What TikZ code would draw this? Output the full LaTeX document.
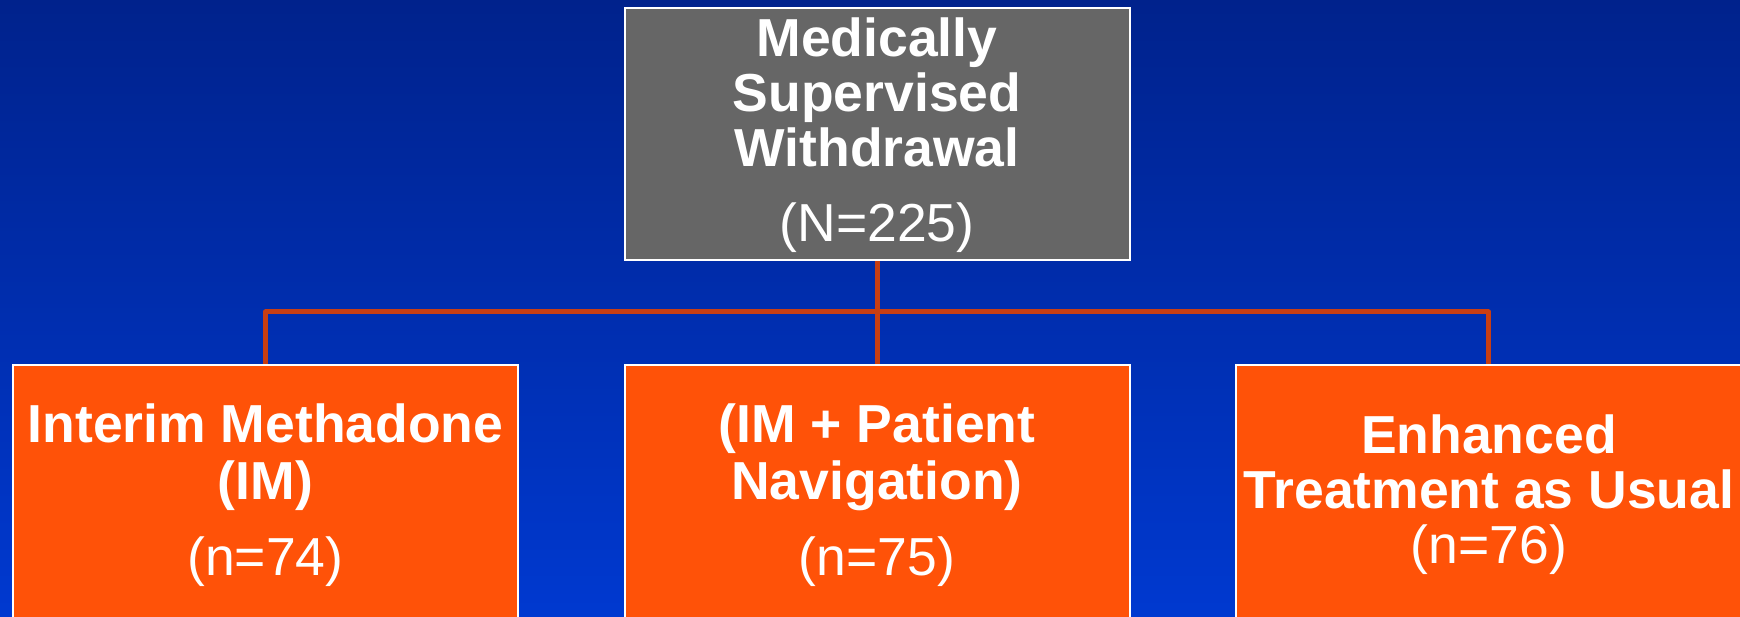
\documentclass[tikz,border=0pt]{standalone}
\usepackage{fontspec}
\setmainfont{Liberation Sans}
\definecolor{bgtop}{RGB}{0,34,140}
\definecolor{bgbot}{RGB}{0,57,208}
\definecolor{boxgray}{RGB}{102,102,102}
\definecolor{boxorange}{RGB}{255,82,8}
\definecolor{linkred}{RGB}{200,62,18}
\pgfdeclarelayer{bgfill}
\pgfdeclarelayer{links}
\pgfsetlayers{bgfill,links,main}
\tikzset{
  box/.style={draw=white, line width=2pt, inner sep=0pt, minimum width=505pt},
  graybox/.style={box, fill=boxgray, minimum height=252pt},
  orangebox/.style={box, fill=boxorange, minimum height=262pt},
  boldtxt/.style={text=white, anchor=base, inner sep=0pt, font=\fontsize{53.5}{56}\selectfont\bfseries},
  normtxt/.style={text=white, anchor=base, inner sep=0pt, font=\fontsize{53.5}{56}\selectfont},
  link/.style={draw=linkred, line width=5pt, line join=round}
}
\begin{document}
\begin{tikzpicture}[x=1pt,y=1pt]
\useasboundingbox (0,0) rectangle (1740,616);
\clip (0,0) rectangle (1740,616);
\begin{pgfonlayer}{bgfill}
\shade[top color=bgtop, bottom color=bgbot] (0,0) rectangle (1740,616);
\end{pgfonlayer}
\coordinate (hub) at (877,304);
\node[graybox] (top) at (877,482) {};
\node[orangebox] (left) at (265.5,120) {};
\node[orangebox] (mid) at (877,120) {};
\node[orangebox] (right) at (1488.5,120) {};
\begin{pgfonlayer}{links}
\path[link] (top.south) -- (mid.north);
\path[link] (left.north) |- (hub) -| (right.north);
\end{pgfonlayer}
% texts
\node[boldtxt] (t1) at (877,559) {Medically};
\node[boldtxt] (t2) at (877,504) {Supervised};
\node[boldtxt] (t3) at (877,449) {Withdrawal};
\node[normtxt] (t4) at (877,374) {(N=225)};
\node[boldtxt] (l1) at (265.5,173) {Interim Methadone};
\node[boldtxt] (l2) at (265.5,117) {(IM)};
\node[normtxt] (l3) at (265.5,41) {(n=74)};
\node[boldtxt] (m1) at (877,173) {(IM + Patient};
\node[boldtxt] (m2) at (877,117) {Navigation)};
\node[normtxt] (m3) at (877,41) {(n=75)};
\node[boldtxt] (r1) at (1489,162) {Enhanced};
\node[boldtxt] (r2) at (1489,107) {Treatment as Usual};
\node[normtxt] (r3) at (1489,53) {(n=76)};
\end{tikzpicture}
\end{document}
